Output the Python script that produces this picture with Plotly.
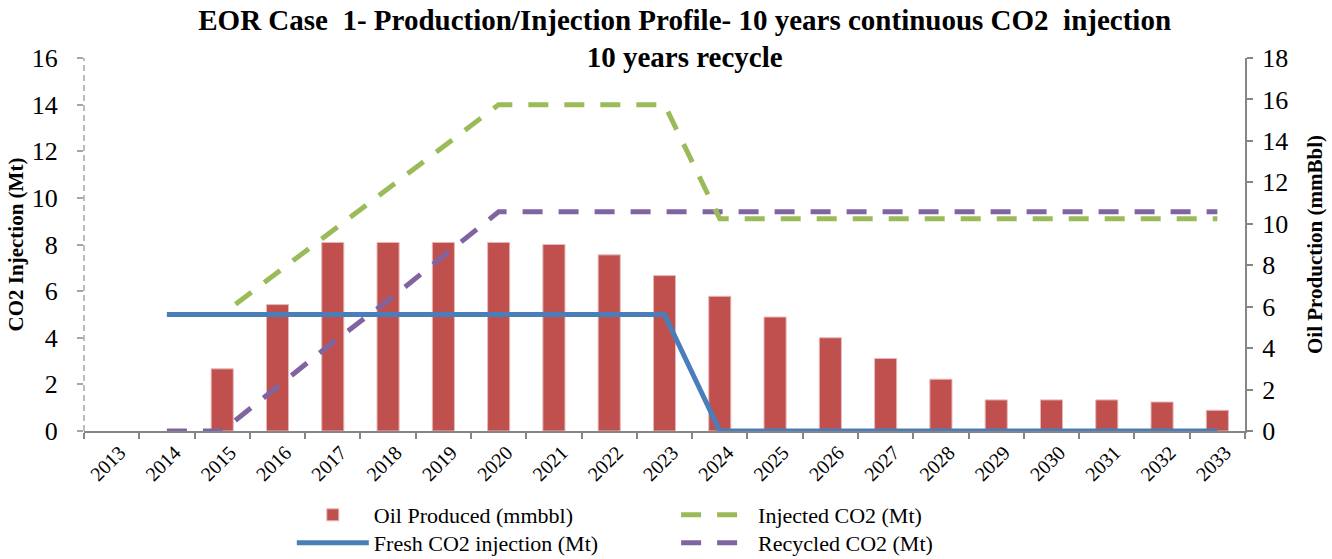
import plotly.graph_objects as go

years = [str(y) for y in range(2013, 2034)]
oil_produced = [None, None, 3.0, 6.1, 9.1, 9.1, 9.1, 9.1, 9.0, 8.5, 7.5,
                6.5, 5.5, 4.5, 3.5, 2.5, 1.5, 1.5, 1.5, 1.4, 1.0]
fresh_co2 = [None, 5, 5, 5, 5, 5, 5, 5, 5, 5, 5,
             0, 0, 0, 0, 0, 0, 0, 0, 0, 0]
injected_co2 = [None, 5, 5, 6.8, 8.6, 10.4, 12.2, 14.0, 14.0, 14.0, 14.0,
                9.1, 9.1, 9.1, 9.1, 9.1, 9.1, 9.1, 9.1, 9.1, 9.1]
recycled_co2 = [None, 0, 0, 1.9, 3.8, 5.6, 7.5, 9.4, 9.4, 9.4, 9.4,
                9.4, 9.4, 9.4, 9.4, 9.4, 9.4, 9.4, 9.4, 9.4, 9.4]

left_ticks = list(range(0, 17, 2))
right_ticks = list(range(0, 19, 2))

SERIF = "Liberation Serif, DejaVu Serif, serif"
GRAY = "#868686"

fig = go.Figure()
fig.add_trace(go.Bar(
    x=years, y=oil_produced, name="Oil Produced (mmbbl)",
    marker=dict(color="#C0504D", line=dict(color="#E6B9B8", width=1)),
    width=0.4, yaxis="y", legend="legend",
))
fig.add_trace(go.Scatter(
    x=years, y=recycled_co2, name="Recycled CO2 (Mt)", mode="lines",
    line=dict(color="#8064A2", width=5, dash="20px,16px"),
    yaxis="y2", legend="legend4",
))
fig.add_trace(go.Scatter(
    x=years, y=injected_co2, name="Injected CO2 (Mt)", mode="lines",
    line=dict(color="#9BBB59", width=5, dash="20px,16px"),
    yaxis="y2", legend="legend2",
))
fig.add_trace(go.Scatter(
    x=years, y=fresh_co2, name="Fresh CO2 injection (Mt)", mode="lines",
    line=dict(color="#4A7EBB", width=5),
    yaxis="y2", legend="legend3",
))

legend_common = dict(xanchor="left", yanchor="top", orientation="v",
                     font=dict(size=22, family=SERIF), bgcolor="rgba(0,0,0,0)",
                     tracegroupgap=0, itemwidth=72)
row1_y = -0.169
row2_y = -0.244

fig.update_layout(
    width=1332, height=559,
    margin=dict(l=84, r=87, t=58, b=128, autoexpand=False),
    paper_bgcolor="white", plot_bgcolor="white",
    font=dict(family=SERIF, color="black"),
    title=dict(
        text="EOR Case  1- Production/Injection Profile- 10 years continuous CO2  injection<br>10 years recycle",
        font=dict(family=SERIF, size=29, color="black", weight="bold"),
        x=0.514, xanchor="center", y=0.947, yanchor="top",
    ),
    showlegend=True,
    xaxis=dict(
        type="category", categoryorder="array", categoryarray=years,
        tickmode="array", tickvals=years, ticktext=years,
        tickangle=-45, tickfont=dict(size=20, family=SERIF),
        ticklabelshift=8,
        showline=True, linecolor=GRAY, linewidth=2,
        ticks="outside", ticklen=6, tickcolor=GRAY, tickwidth=1.5,
        tickson="boundaries", showgrid=False, zeroline=False,
    ),
    yaxis=dict(
        side="right", range=[0, 18], tickmode="array", tickvals=right_ticks,
        tickfont=dict(size=26, family=SERIF), ticklabelstandoff=4,
        showline=True, linecolor=GRAY, linewidth=2,
        ticks="outside", ticklen=6, tickcolor=GRAY, tickwidth=1.5,
        showgrid=False, zeroline=False,
        title=dict(text="<b>Oil Production (mmBbl)</b>", font=dict(size=21, family=SERIF), standoff=20),
    ),
    yaxis2=dict(
        overlaying="y", side="left", range=[0, 16], tickmode="array", tickvals=left_ticks,
        tickfont=dict(size=26, family=SERIF), ticklabelstandoff=14,
        showline=False,
        ticks="outside", ticklen=6, tickcolor="#A6A6A6", tickwidth=1.5,
        showgrid=False, zeroline=False,
        title=dict(text="<b>CO2 Injection (Mt)</b>", font=dict(size=21, family=SERIF), standoff=2),
    ),
    legend=dict(x=0.179, y=row1_y, **legend_common),
    legend2=dict(x=0.51, y=row1_y, **legend_common),
    legend3=dict(x=0.179, y=row2_y, **legend_common),
    legend4=dict(x=0.51, y=row2_y, **legend_common),
    shapes=[dict(type="line", xref="paper", yref="paper", x0=0, x1=0, y0=0, y1=1,
                 line=dict(color="#A6A6A6", width=1.5, dash="6px,4px"), layer="above")],
)

fig.write_html("out.html", config={"displayModeBar": False},
               post_script="document.body.style.margin='0px';")
